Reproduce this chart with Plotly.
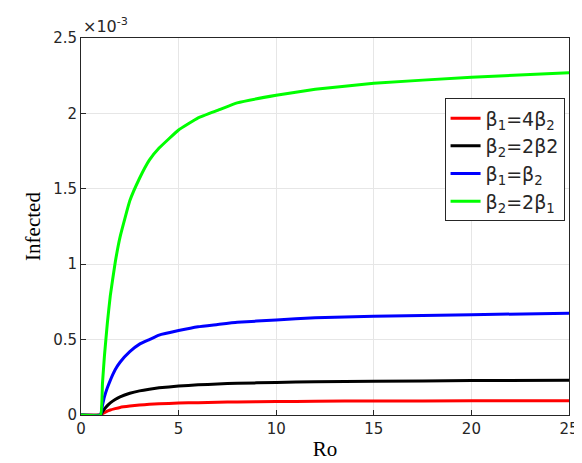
import plotly.graph_objects as go

ro = [0, 1, 1.1, 1.2, 1.35, 1.5, 1.75, 2, 2.5, 3, 3.5, 4, 5, 6, 7, 8, 10, 12, 15, 20, 25]
green = [0, 0, 0.21, 0.39, 0.61, 0.79, 1.01, 1.18, 1.42, 1.57, 1.69, 1.77, 1.89, 1.97, 2.02, 2.07, 2.12, 2.16, 2.20, 2.24, 2.27]
blue = [0, 0, 0.064, 0.12, 0.18, 0.23, 0.30, 0.35, 0.42, 0.47, 0.50, 0.53, 0.56, 0.585, 0.60, 0.615, 0.63, 0.645, 0.655, 0.665, 0.675]
black = [0, 0, 0.022, 0.04, 0.062, 0.08, 0.103, 0.12, 0.144, 0.16, 0.171, 0.18, 0.192, 0.2, 0.206, 0.21, 0.216, 0.22, 0.224, 0.228, 0.23]
red = [0, 0, 0.009, 0.016, 0.026, 0.033, 0.042, 0.05, 0.059, 0.066, 0.071, 0.074, 0.079, 0.082, 0.085, 0.087, 0.089, 0.091, 0.093, 0.094, 0.095]

series = [
    ("β<sub>1</sub>=4β<sub>2</sub>", red, "#ff0000"),
    ("β<sub>2</sub>=2β2", black, "#000000"),
    ("β<sub>1</sub>=β<sub>2</sub>", blue, "#0000ff"),
    ("β<sub>2</sub>=2β<sub>1</sub>", green, "#00ff00"),
]

fig = go.Figure()
for name, ys, c in series:
    fig.add_trace(go.Scatter(x=ro, y=ys, mode="lines", name=name,
                             line=dict(color=c, width=3, shape="spline", smoothing=0.3)))

ax = dict(showline=True, linecolor="#262626", linewidth=1, mirror=True, ticks="inside",
          ticklen=5, tickcolor="#262626", showgrid=True, gridcolor="#e6e6e6", zeroline=False,
          tickfont=dict(family="DejaVu Sans", size=15, color="#262626"))
fig.update_layout(
    width=582, height=463, plot_bgcolor="white", paper_bgcolor="white",
    margin=dict(l=73, r=11, t=30, b=56),
    xaxis=dict(range=[0, 25], dtick=5,
               title=dict(text="Ro", font=dict(family="Liberation Serif", size=21, color="#000"), standoff=4), **ax),
    yaxis=dict(range=[0, 2.5], tickvals=[0, 0.5, 1, 1.5, 2, 2.5], ticktext=["0", "0.5", "1", "1.5", "2", "2.5"],
               title=dict(text="Infected", font=dict(family="Liberation Serif", size=21, color="#000"), standoff=6), **ax),
    legend=dict(x=0.745, y=0.84, xanchor="left", yanchor="top", bordercolor="#262626", borderwidth=1,
                bgcolor="white", font=dict(family="DejaVu Sans", size=19, color="#262626")),
    annotations=[dict(text="×10<sup>-3</sup>", x=0, y=1, xref="paper", yref="paper", xanchor="left",
                      yanchor="bottom", showarrow=False, font=dict(family="DejaVu Sans", size=16, color="#262626"))],
)
fig.write_html("out.html")
